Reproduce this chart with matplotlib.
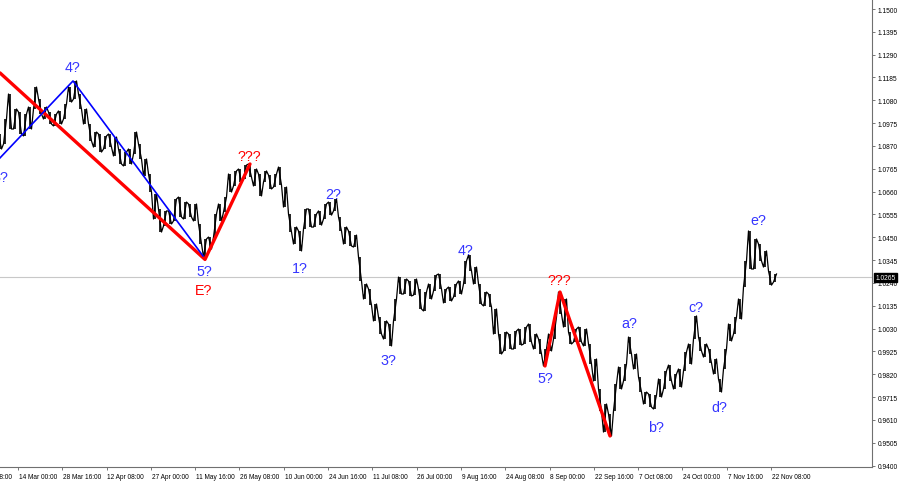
import numpy as np
import matplotlib
matplotlib.use("Agg")
import matplotlib.pyplot as plt
import matplotlib.transforms as mtransforms

plt.rcParams['font.family'] = ['Liberation Sans', 'DejaVu Sans']

# ---- price data (H4 bars, sampled), highs and lows ----
high = [1.0925, 1.0994, 1.1109, 1.1040, 1.1026, 1.1017, 1.1049, 1.1141, 1.1086, 1.1049,
        1.1026, 1.1017, 1.1031, 1.1063, 1.1141, 1.1169, 1.1109, 1.1040, 1.0971, 1.0934,
        1.0925, 1.0916, 1.0925, 1.0911, 1.0856, 1.0842, 1.0856, 1.0934, 1.0879, 1.0810,
        1.0741, 1.0649, 1.0580, 1.0571, 1.0571, 1.0626, 1.0635, 1.0612, 1.0603, 1.0603,
        1.0511, 1.0442, 1.0451, 1.0557, 1.0603, 1.0635, 1.0741, 1.0755, 1.0764, 1.0782,
        1.0787, 1.0764, 1.0741, 1.0755, 1.0736, 1.0741, 1.0773, 1.0681, 1.0557, 1.0497,
        1.0479, 1.0580, 1.0580, 1.0557, 1.0571, 1.0603, 1.0612, 1.0626, 1.0543, 1.0497,
        1.0479, 1.0460, 1.0359, 1.0235, 1.0212, 1.0143, 1.0083, 1.0065, 1.0051, 1.0166,
        1.0267, 1.0258, 1.0249, 1.0258, 1.0212, 1.0198, 1.0235, 1.0276, 1.0281, 1.0212,
        1.0221, 1.0235, 1.0249, 1.0341, 1.0368, 1.0313, 1.0235, 1.0198, 1.0189, 1.0120,
        1.0005, 1.0014, 1.0005, 1.0019, 1.0028, 1.0037, 1.0051, 1.0005, 0.9982, 0.9936,
        1.0005, 1.0083, 1.0198, 1.0166, 1.0014, 1.0028, 1.0037, 1.0028, 0.9959, 0.9890,
        0.9752, 0.9683, 0.9637, 0.9775, 0.9853, 0.9867, 0.9991, 0.9913, 0.9807, 0.9738,
        0.9729, 0.9724, 0.9798, 0.9835, 0.9862, 0.9821, 0.9844, 0.9922, 0.9959, 1.0088,
        0.9991, 0.9959, 0.9936, 0.9890, 0.9798, 0.9936, 1.0051, 1.0083, 1.0166, 1.0341,
        1.0479, 1.0442, 1.0419, 1.0387, 1.0295, 1.0281]
low = [1.0856, 1.0879, 1.0948, 1.0948, 1.0925, 1.0916, 1.0948, 1.1040, 1.1017, 1.0994,
       1.0971, 1.0962, 1.0971, 1.0994, 1.1072, 1.1086, 1.1040, 1.0971, 1.0893, 1.0865,
       1.0842, 1.0856, 1.0865, 1.0824, 1.0787, 1.0778, 1.0787, 1.0833, 1.0810, 1.0732,
       1.0658, 1.0534, 1.0474, 1.0502, 1.0511, 1.0525, 1.0543, 1.0534, 1.0543, 1.0525,
       1.0419, 1.0359, 1.0396, 1.0451, 1.0525, 1.0566, 1.0658, 1.0686, 1.0704, 1.0718,
       1.0727, 1.0686, 1.0640, 1.0704, 1.0672, 1.0681, 1.0690, 1.0589, 1.0474, 1.0419,
       1.0387, 1.0488, 1.0497, 1.0497, 1.0506, 1.0534, 1.0552, 1.0571, 1.0479, 1.0419,
       1.0410, 1.0405, 1.0249, 1.0166, 1.0138, 1.0065, 1.0005, 0.9982, 0.9950, 1.0065,
       1.0189, 1.0189, 1.0180, 1.0184, 1.0120, 1.0111, 1.0166, 1.0203, 1.0212, 1.0148,
       1.0157, 1.0175, 1.0189, 1.0235, 1.0295, 1.0235, 1.0143, 1.0134, 1.0129, 1.0005,
       0.9913, 0.9927, 0.9936, 0.9936, 0.9954, 0.9959, 0.9968, 0.9936, 0.9913, 0.9858,
       0.9927, 0.9982, 1.0097, 1.0037, 0.9959, 0.9968, 0.9968, 0.9950, 0.9867, 0.9789,
       0.9651, 0.9554, 0.9536, 0.9651, 0.9752, 0.9789, 0.9913, 0.9844, 0.9738, 0.9683,
       0.9669, 0.9660, 0.9715, 0.9752, 0.9789, 0.9752, 0.9761, 0.9835, 0.9867, 0.9982,
       0.9927, 0.9899, 0.9872, 0.9821, 0.9738, 0.9844, 0.9973, 1.0005, 1.0074, 1.0221,
       1.0304, 1.0304, 1.0341, 1.0313, 1.0230, 1.0244]

last_price = 1.0265

date_labels = ["27 Feb 08:00", "14 Mar 00:00", "28 Mar 16:00", "12 Apr 08:00", "27 Apr 00:00",
               "11 May 16:00", "26 May 08:00", "10 Jun 00:00", "24 Jun 16:00", "11 Jul 08:00",
               "26 Jul 00:00", "9 Aug 16:00", "24 Aug 08:00", "8 Sep 00:00", "22 Sep 16:00",
               "7 Oct 08:00", "24 Oct 00:00", "7 Nov 16:00", "22 Nov 08:00"]

# wave markup (bar index, price)
blue_wave_x = [0, 14.6, 40.6]
blue_wave_y = [1.0815, 1.1169, 1.0364]
red_wave1_x = [0, 41, 50]
red_wave1_y = [1.1206, 1.0348, 1.0787]
red_wave2_x = [109, 112, 122]
red_wave2_y = [0.9858, 1.0198, 0.9536]

wave_texts = ["3?", "4?", "5?", "E?", "???", "1?", "2?", "3?", "4?", "???", "5?",
              "a?", "b?", "c?", "d?", "e?"]
wave_text_x = [1.6, 14.6, 40.8, 40.8, 49.8, 60.0, 66.6, 77.6, 93.2, 111.8, 109.0,
               125.8, 131.2, 139.2, 143.8, 151.6]
wave_text_y = [1.0727, 1.1233, 1.0295, 1.0207, 1.0824, 1.0309, 1.0649, 0.9885, 1.0391,
               1.0253, 0.9803, 1.0056, 0.9577, 1.0129, 0.9669, 1.0529]
wave_text_kind = ["b", "b", "b", "r", "r", "b", "b", "b", "b", "r", "b",
                  "b", "b", "b", "b", "b"]

BLUE_TXT = "#3535ff"
BLUE_LN = "#0000ff"
RED = "#ff0000"

fig = plt.figure(figsize=(9, 4.85), dpi=100)
fig.patch.set_facecolor("white")
ax = fig.add_axes([0, 1 - 468 / 485, 872 / 900, 468 / 485])
ax.set_facecolor("white")

n = len(high)
x = np.arange(n)
ax.set_xlim(0, 872 / 5)
ax.set_ylim(0.93932, 1.1546)

# current price line
ax.axhline(last_price, color="#c8c8c8", lw=0.8, zorder=1)

# price bars
ax.vlines(x, low, high, color="black", lw=1.2, zorder=3)
zx, zy = [], []
for i in range(n):
    if i % 2 == 0:
        zx += [i - 0.3, i + 0.3]; zy += [high[i], low[i]]
    else:
        zx += [i - 0.3, i + 0.3]; zy += [low[i], high[i]]
ax.plot(zx, zy, color="black", lw=0.9, zorder=3)

# wave lines
ax.plot(red_wave1_x, red_wave1_y, color=RED, lw=2.4, zorder=4, solid_capstyle="round")
ax.plot(red_wave2_x, red_wave2_y, color=RED, lw=2.4, zorder=4, solid_capstyle="round")
ax.plot(blue_wave_x, blue_wave_y, color=BLUE_LN, lw=1.2, zorder=5)

for t, tx, ty, k in zip(wave_texts, wave_text_x, wave_text_y, wave_text_kind):
    ax.text(tx, ty, t, color=(BLUE_TXT if k == "b" else RED), fontsize=10.3,
            ha=("right" if tx < 3 else "center"), va="center", zorder=6, clip_on=True)

# y axis on right
price_ticks = [round(0.94 + 0.0105 * k, 4) for k in range(21)]
ax.yaxis.tick_right()
ax.set_yticks(price_ticks)
ax.set_yticklabels([f"{v:.4f}" for v in price_ticks])
ax.tick_params(axis="y", labelsize=4.8, length=2.5, width=0.6, pad=1.5,
               color="#606060", labelcolor="black")

# x axis
step = 44.3 / 5
pos = [(18 - 44.3) / 5 + step * k for k in range(len(date_labels))]
ax.set_xticks([p for p in pos if p >= 0])
ax.set_xticklabels([])
ax.tick_params(axis="x", length=2.5, width=0.6, color="#606060")
trans = mtransforms.blended_transform_factory(ax.transData, ax.transAxes)
for p, lab in zip(pos, date_labels):
    ax.text(p + 0.15, -0.0195, lab, transform=trans, fontsize=4.7, color="black",
            ha="left", va="center", clip_on=False)

for s in ["left", "top"]:
    ax.spines[s].set_visible(False)
for s in ["right", "bottom"]:
    ax.spines[s].set_color("#707070")
    ax.spines[s].set_linewidth(0.8)

# last price tag
tr2 = mtransforms.blended_transform_factory(ax.transAxes, ax.transData)
ax.text(1.004, last_price, f"{last_price:.4f}", transform=tr2, fontsize=4.8, color="white",
        ha="left", va="center", clip_on=False, zorder=10,
        bbox=dict(boxstyle="square,pad=0.15", fc="black", ec="black"))

fig.savefig("out.png", dpi=100, facecolor="white")
